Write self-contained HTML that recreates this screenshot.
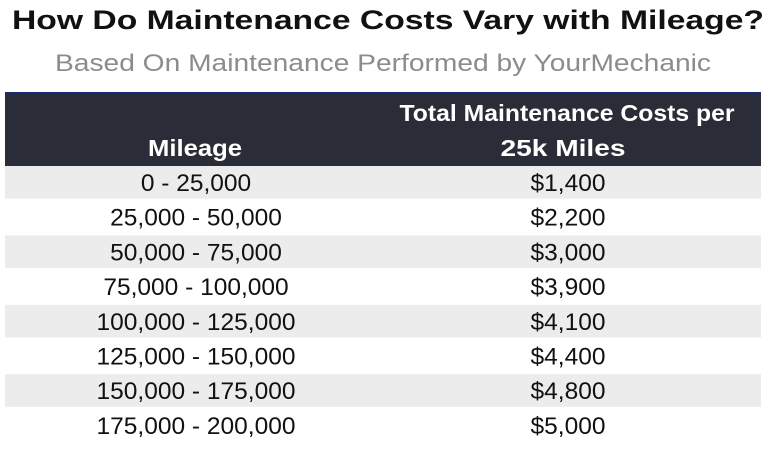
<!DOCTYPE html>
<html><head><meta charset="utf-8"><style>
html,body{margin:0;padding:0;background:#fff;}
svg{display:block;font-family:"Liberation Sans",sans-serif;}
</style></head><body>
<svg id="c" width="777" height="453" viewBox="0 0 777 453">
<text x="388" y="29" text-anchor="middle" font-size="27" font-weight="bold" fill="#111" textLength="752" lengthAdjust="spacingAndGlyphs">How Do Maintenance Costs Vary with Mileage?</text>
<text x="383" y="71" text-anchor="middle" font-size="24" fill="#8c8c8c" textLength="656" lengthAdjust="spacingAndGlyphs">Based On Maintenance Performed by YourMechanic</text>
<rect x="5" y="92" width="756" height="74" fill="#2a2c38"/>
<rect x="5" y="92" width="756" height="1.5" fill="#1a2a7a"/>
<text x="195" y="156" text-anchor="middle" font-size="23" font-weight="bold" fill="#fff" textLength="94" lengthAdjust="spacingAndGlyphs">Mileage</text>
<text x="567" y="121" text-anchor="middle" font-size="23" font-weight="bold" fill="#fff" textLength="335" lengthAdjust="spacingAndGlyphs">Total Maintenance Costs per</text>
<text x="563" y="156" text-anchor="middle" font-size="23" font-weight="bold" fill="#fff" textLength="125" lengthAdjust="spacingAndGlyphs">25k Miles</text>
<g id="rows"></g>
</svg>
<script>
const mileageRanges = ["0 - 25,000","25,000 - 50,000","50,000 - 75,000","75,000 - 100,000","100,000 - 125,000","125,000 - 150,000","150,000 - 175,000","175,000 - 200,000"];
const costs = [1400,2200,3000,3900,4100,4400,4800,5000];
const g = document.getElementById('rows');
const ns = "http://www.w3.org/2000/svg";
const rowH = 34.7, top0 = 166;
mileageRanges.forEach((m,i)=>{
  const y = top0 + i*rowH;
  if(i%2===0){
    const r = document.createElementNS(ns,'rect');
    r.setAttribute('x',5);r.setAttribute('y',y);r.setAttribute('width',756);r.setAttribute('height',rowH-2);
    r.setAttribute('fill','#ececec');
    
    
    g.appendChild(r);
  }
  const t1 = document.createElementNS(ns,'text');
  t1.setAttribute('x',196);t1.setAttribute('y',y+25);t1.setAttribute('text-anchor','middle');
  t1.setAttribute('font-size','24.5');t1.setAttribute('fill','#111');
  t1.textContent = m;
  
  
  g.appendChild(t1);
  const t2 = document.createElementNS(ns,'text');
  t2.setAttribute('x',568);t2.setAttribute('y',y+25);t2.setAttribute('text-anchor','middle');
  t2.setAttribute('font-size','24.5');t2.setAttribute('fill','#111');
  t2.textContent = '$' + costs[i].toLocaleString('en-US');
  
  
  g.appendChild(t2);
});
</script>
</body></html>
